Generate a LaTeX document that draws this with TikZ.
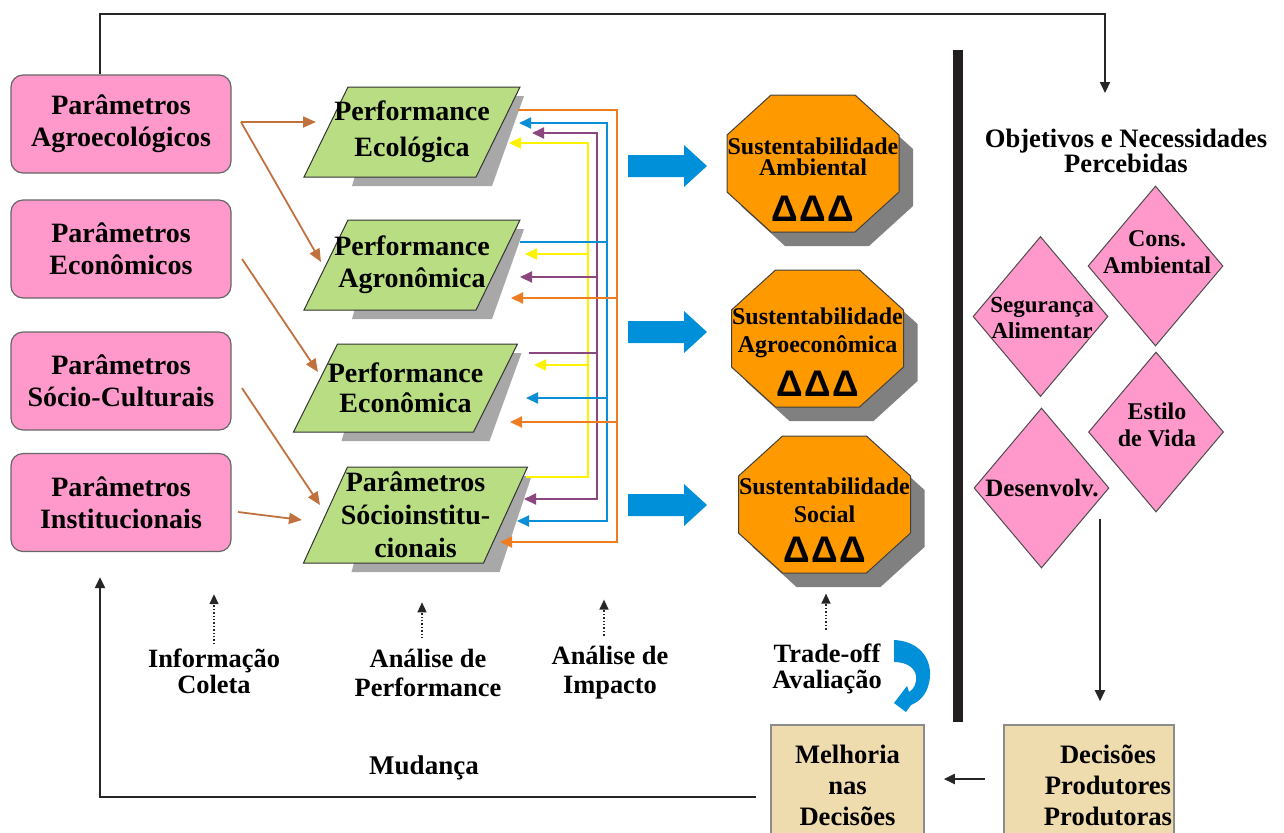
\documentclass[tikz,border=0pt]{standalone}
\usepackage{fontspec}
\setmainfont{Liberation Serif}
\newfontfamily\trifont{Liberation Sans}
\usetikzlibrary{arrows.meta,shapes.geometric}
\definecolor{pinkbox}{HTML}{FF99CC}
\definecolor{greenpar}{HTML}{B9DD82}
\definecolor{octorange}{HTML}{FF9900}
\definecolor{tanbox}{HTML}{EEDBAE}
\definecolor{brownarr}{HTML}{C0713E}
\definecolor{lineorange}{HTML}{EE7D22}
\definecolor{lineblue}{HTML}{0A8ED6}
\definecolor{linepurple}{HTML}{8C477E}
\definecolor{lineyellow}{HTML}{FFF200}
\definecolor{blockblue}{HTML}{0090DA}
\definecolor{parshadow}{HTML}{A8A8A8}
\definecolor{octshadow}{HTML}{808080}
\definecolor{barblack}{HTML}{231F20}

% parallelogram: name, cx, cy, half width, half height, baselineskip, text
\newcommand{\paraGram}[7]{%
  \fill[parshadow] (#2-#4+52,#3-#5+9) -- (#2+#4+26,#3-#5+9) -- (#2+#4-6,#3+#5+9) -- (#2-#4+26,#3+#5+9) -- cycle;
  \filldraw[fill=greenpar, draw=black!80, line width=0.5pt] (#2-#4+22,#3-#5) -- (#2+#4+22,#3-#5) -- (#2+#4-22,#3+#5) -- (#2-#4-22,#3+#5) -- cycle;
  \node[paratxt, font=\bfseries\fontsize{14}{#6}\selectfont] (#1) at (#2,#3) {#7};
}
% octagon: name, cx, cy, baselineskip, text, text y offset
\newcommand{\octShape}[6]{%
  \fill[octshadow] (#2-28,#3-54.5) -- (#2+56,#3-54.5) -- (#2+100,#3-14.5) -- (#2+100,#3+42.5) -- (#2+56,#3+82.5) -- (#2-28,#3+82.5) -- (#2-72,#3+42.5) -- (#2-72,#3-14.5) -- cycle;
  \filldraw[fill=octorange, draw=black!75, line width=0.5pt] (#2-42,#3-68.5) -- (#2+42,#3-68.5) -- (#2+86,#3-28.5) -- (#2+86,#3+28.5) -- (#2+42,#3+68.5) -- (#2-42,#3+68.5) -- (#2-86,#3+28.5) -- (#2-86,#3-28.5) -- cycle;
  \node[octtxt, font=\bfseries\fontsize{12}{#4}\selectfont] (#1) at (#2,#3+#6) {#5};
  \node[tritxt] (#1tri) at (#2,#3+45) {Δ\kern0.8ptΔ\kern0.8ptΔ};
}
\newcommand{\blockArrow}[1]{%
  \fill[blockblue] (628,#1-11) -- (684,#1-11) -- (684,#1-21) -- (707,#1) -- (684,#1+21) -- (684,#1+11) -- (628,#1+11) -- cycle;
}

\tikzset{
  pinknode/.style={draw=black!60, line width=0.6pt, fill=pinkbox, rounded corners=6pt,
    minimum width=110pt, minimum height=49pt, align=center, inner sep=0pt,
    font=\bfseries\fontsize{14}{16}\selectfont},
  paratxt/.style={align=center, inner sep=0pt},
  octtxt/.style={align=center, inner sep=0pt},
  tritxt/.style={inner sep=0pt, font=\trifont\bfseries\fontsize{18.5}{18}\selectfont},
  dshape/.style={diamond, draw=black!70, line width=0.5pt, fill=pinkbox, minimum width=67.5pt,
    minimum height=80pt, inner sep=0pt},
  dtxt/.style={align=center, inner sep=0pt},
  labtxt/.style={align=center, inner sep=0pt},
  tannode/.style={draw=black!45, line width=0.8pt, fill=tanbox, minimum height=60pt, inner sep=0pt,
    align=center, font=\bfseries\fontsize{13.3}{15.5}\selectfont},
  brownarrow/.style={draw=brownarr, line width=0.9pt, -{Triangle[length=6.5pt,width=5.5pt]}},
  ctip/.style={-{Triangle[length=6pt,width=5.5pt]}},
  oline/.style={draw=lineorange, line width=1pt},
  bline/.style={draw=lineblue, line width=1pt},
  pline/.style={draw=linepurple, line width=1pt},
  yline/.style={draw=lineyellow, line width=1pt},
  blackline/.style={draw=black!85, line width=1pt},
  blacktip/.style={-{Triangle[length=5.5pt,width=5pt]}},
  dotarrow/.style={draw=black!85, line width=0.7pt, densely dotted, -{Triangle[length=5pt,width=4.5pt]}}
}

\begin{document}
\begin{tikzpicture}[x=0.5pt,y=-0.5pt]
\useasboundingbox (0,0) rectangle (1284,832);
\clip (0,0) rectangle (1284,832);

% left pink boxes
\node[pinknode] (p1) at (121,124) {Parâmetros\\Agroecológicos};
\node[pinknode] (p2) at (121,249) {Parâmetros\\Econômicos};
\node[pinknode] (p3) at (121,381) {Parâmetros\\Sócio-Culturais};
\node[pinknode] (p4) at (121,502.5) {Parâmetros\\Institucionais};

% parallelograms
\paraGram{eco}{412}{132}{86}{45}{18}{Performance\\Ecológica}
\paraGram{agro}{412}{265}{86}{45}{16}{Performance\\Agronômica}
\paraGram{econ}{405.5}{388}{90}{44}{15}{Performance\\Econômica}
\paraGram{socio}{415.5}{515}{90}{48}{16.5}{Parâmetros\\Sócioinstitu-\\cionais}

% brown arrows
\draw[brownarrow] ([shift={(120,-2)}]p1.center) -- ([shift={(-96,-10)}]eco.center);
\draw[brownarrow] ([shift={(120,-2)}]p1.center) -- ([shift={(-91,-3)}]agro.center);
\draw[brownarrow] ([shift={(121,10)}]p2.center) -- ([shift={(-87.5,-16)}]econ.center);
\draw[brownarrow] ([shift={(121,7)}]p3.center) -- ([shift={(-95.5,-10)}]socio.center);
\draw[brownarrow] ([shift={(117,9.5)}]p4.center) -- ([shift={(-113.5,5)}]socio.center);

% feedback buses
\coordinate (busO) at (617,0);
\coordinate (busB) at (607,0);
\coordinate (busP) at (597,0);
\coordinate (busY) at (588,0);

\coordinate (oS) at ([shift={(106,-22)}]eco.center);
\coordinate (oA) at ([shift={(99,33)}]agro.center);
\coordinate (oE) at ([shift={(104.5,34)}]econ.center);
\coordinate (oZ) at ([shift={(84.5,27)}]socio.center);

\coordinate (bS) at ([shift={(108,-23)}]agro.center);
\coordinate (bT) at ([shift={(107,-9)}]eco.center);
\coordinate (bE) at ([shift={(120.5,10)}]econ.center);
\coordinate (bZ) at ([shift={(101.5,6)}]socio.center);

\coordinate (pS) at ([shift={(123.5,-35)}]econ.center);
\coordinate (pT) at ([shift={(120,1)}]eco.center);
\coordinate (pA) at ([shift={(108,12)}]agro.center);
\coordinate (pZ) at ([shift={(108.5,-16)}]socio.center);

\coordinate (yS) at ([shift={(110.5,-38)}]socio.center);
\coordinate (yT) at ([shift={(97,11)}]eco.center);
\coordinate (yA) at ([shift={(113,-11)}]agro.center);
\coordinate (yE) at ([shift={(128.5,-23)}]econ.center);

% yellow
\draw[yline,{Triangle[length=6pt,width=5.5pt]}-] (yT) -- (yT -| busY) -- (yS -| busY) -- (yS);
\draw[yline,ctip] (yA -| busY) -- (yA);
\draw[yline,ctip] (yE -| busY) -- (yE);
% purple
\draw[pline,{Triangle[length=6pt,width=5.5pt]}-{Triangle[length=6pt,width=5.5pt]}] (pT) -- (pT -| busP) -- (pZ -| busP) -- (pZ);
\draw[pline] (pS) -- (pS -| busP);
\draw[pline,ctip] (pA -| busP) -- (pA);
% blue
\draw[bline,{Triangle[length=6pt,width=5.5pt]}-{Triangle[length=6pt,width=5.5pt]}] (bT) -- (bT -| busB) -- (bZ -| busB) -- (bZ);
\draw[bline] (bS) -- (bS -| busB);
\draw[bline,ctip] (bE -| busB) -- (bE);
% orange
\draw[oline,ctip] (oS) -- (oS -| busO) -- (oZ -| busO) -- (oZ);
\draw[oline,ctip] (oA -| busO) -- (oA);
\draw[oline,ctip] (oE -| busO) -- (oE);

% block arrows
\blockArrow{166}
\blockArrow{332}
\blockArrow{505}

% octagons
\octShape{sa}{813}{163.5}{10.5}{Sustentabilidade\\Ambiental}{-7}
\octShape{sg}{817.5}{338.5}{14}{Sustentabilidade\\Agroeconômica}{-6}
\octShape{ss}{824.5}{504.5}{14}{Sustentabilidade\\Social}{-4}

% thick separator bar
\fill[barblack] (953,50) rectangle (963,722);

% objectives
\node[labtxt, font=\bfseries\fontsize{13.3}{12.5}\selectfont] (obj) at (1126,151) {Objetivos e Necessidades\\Percebidas};
\coordinate (objtip) at (1105,93);

\node[dshape] (cons) at (1155.5,266) {};
\node[dshape] (seg) at (1040.5,316.5) {};
\node[dshape] (estilo) at (1156,432) {};
\node[dshape] (desen) at (1041.5,488) {};
\node[dtxt, font=\bfseries\fontsize{12}{13.5}\selectfont] (consT) at (1157,252.5) {Cons.\\Ambiental};
\node[dtxt, font=\bfseries\fontsize{11.5}{12.75}\selectfont] (segT) at (1042,318) {Segurança\\Alimentar};
\node[dtxt, font=\bfseries\fontsize{12}{13.5}\selectfont] (estiloT) at (1157,424.5) {Estilo\\de Vida};
\node[dtxt, font=\bfseries\fontsize{12.5}{13}\selectfont] (desenT) at (1042,488) {Desenvolv.};

% bottom boxes
\node[tannode, minimum width=76.5pt] (mel) at (847.5,785) {Melhoria\\nas\\Decisões};
\node[tannode, minimum width=85pt] (dec) at (1089,785) {};
\node[labtxt, font=\bfseries\fontsize{13.3}{15.5}\selectfont] (decT) at (1108,785) {Decisões\\Produtores\\Produtoras};

% bottom labels
\node[labtxt, font=\bfseries\fontsize{13.2}{13}\selectfont] (lab1) at (214,671) {Informação\\Coleta};
\node[labtxt, font=\bfseries\fontsize{13.2}{14.5}\selectfont] (lab2) at (428,672.5) {Análise de\\Performance};
\node[labtxt, font=\bfseries\fontsize{13.2}{14.5}\selectfont] (lab3) at (610,672.5) {Análise de\\Impacto};
\node[labtxt, font=\bfseries\fontsize{13.2}{13}\selectfont] (lab4) at (827,669) {Trade-off\\Avaliação};
\node[labtxt, font=\bfseries\fontsize{13.5}{15}\selectfont] (mud) at (424,768) {Mudança};

% dotted arrows
\draw[dotarrow] ([shift={(0,-4)}]lab1.north) -- ++(0,-50);
\draw[dotarrow] ([shift={(-6,-10)}]lab2.north) -- ++(0,-36);
\draw[dotarrow] ([shift={(-6,-10)}]lab3.north) -- ++(0,-36);
\draw[dotarrow] ([shift={(-1,-14)}]lab4.north) -- ++(0,-36);

% curved blue arrow
\fill[blockblue] (894,640) .. controls (918,641) and (931,657) .. (930,676)
  .. controls (929,692) and (921,701) .. (911,705) -- (906,712) -- (894,703) -- (907,686) -- (909,692)
  .. controls (914,689) and (917,683) .. (916,676)
  .. controls (915,668) and (907,662) .. (894,662) -- cycle;

% black connectors
\draw[blackline,blacktip] ([shift={(-21,0)}]p1.north) |- ([shift={(0,-79)}]objtip) -- (objtip);
\draw[blackline,blacktip] ([shift={(-56,6)}]estilo.south) -- ([shift={(11,-23)}]dec.north);
\draw[blackline,blacktip] ([shift={(-18,-6)}]dec.west) -- ([shift={(19,-6)}]mel.east);
\draw[blackline,blacktip] ([shift={(-14,12)}]mel.west) -| ([shift={(-21,25)}]p4.south);
\end{tikzpicture}
\end{document}
